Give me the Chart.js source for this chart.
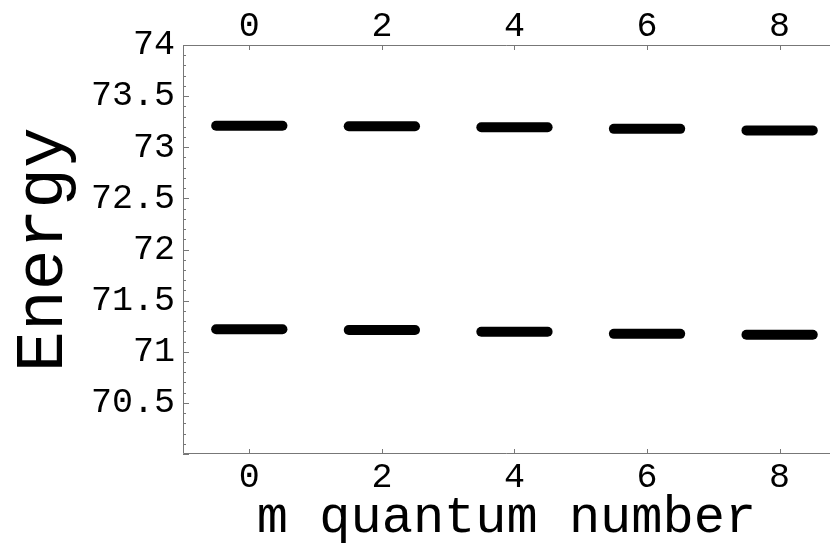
<!DOCTYPE html>
<html>
<head>
<meta charset="utf-8">
<title>Energy levels</title>
<script src="https://cdn.jsdelivr.net/npm/chart.js@4.4.1/dist/chart.umd.min.js"></script>
<style>
    html, body { margin: 0; padding: 0; background: #fff; }
    #box { width: 830px; height: 543px; }
</style>
</head>
<body>
<div id="box"><canvas id="levels"></canvas></div>
<script>
//  DATA

var mValues = [0, 2, 4, 6, 8];
var upperLevel = [73.21, 73.205, 73.195, 73.18, 73.165];
var lowerLevel = [71.22, 71.213, 71.196, 71.175, 71.167];

var xTicks = [0, 2, 4, 6, 8];
var yTicks = [70.5, 71, 71.5, 72, 72.5, 73, 73.5, 74];

var halfWidth = 0.5;
var MONO = "'Liberation Mono', 'Courier New', monospace";
var FRAME = '#777';

// every level is a short flat segment centred on its m value
function levelSegments(levels) {
    return mValues.map(function(m, i) {
        return {
            data: [{x: m - halfWidth, y: levels[i]}, {x: m + halfWidth, y: levels[i]}],
            borderColor: '#000',
            borderWidth: 10,
            borderCapStyle: 'round',
            pointRadius: 0,
            fill: false
        };
    });
}

function setTicks(values) {
    return function(scale) {
        scale.ticks = values.map(function(v) { return {value: v}; });
    };
}

function plainLabel(v) {
    return String(v);
}

//  FRAME + INWARD TICKS

var framePlugin = {
    id: 'frame',
    afterDraw: function(chart) {
        var ctx = chart.ctx;
        var area = chart.chartArea;
        var x = chart.scales.x;
        var y = chart.scales.y;
        ctx.save();
        ctx.strokeStyle = FRAME;
        ctx.lineWidth = 1;
        ctx.beginPath();
        ctx.moveTo(area.right, area.top + 0.5);
        ctx.lineTo(area.left + 0.5, area.top + 0.5);
        ctx.lineTo(area.left + 0.5, area.bottom - 0.5);
        ctx.lineTo(area.right, area.bottom - 0.5);
        xTicks.forEach(function(v) {
            var px = Math.round(x.getPixelForValue(v)) + 0.5;
            ctx.moveTo(px, area.top);
            ctx.lineTo(px, area.top + 5);
            ctx.moveTo(px, area.bottom);
            ctx.lineTo(px, area.bottom - 5);
        });
        // minor ticks every 0.1, longer ones every 0.5
        for (var i = 0; i <= 40; i++) {
            var py = Math.round(y.getPixelForValue(y.min + i * 0.1)) + 0.5;
            var len = (i % 5 === 0) ? 6 : 3;
            ctx.moveTo(area.left, py);
            ctx.lineTo(area.left + len, py);
        }
        ctx.stroke();
        ctx.restore();
    }
};

var tickFont = {family: MONO, size: 35, lineHeight: 1};

var chart = document.getElementById('levels');
var levelChart = new Chart(
    chart, {
        type: 'line',
        data: {
            datasets: levelSegments(upperLevel).concat(levelSegments(lowerLevel))
        },
        options: {
            responsive: true,
            maintainAspectRatio: false,
            animation: false,
            layout: {
                padding: {left: 0, top: 8, right: 0, bottom: 0}
            },
            plugins: {
                legend: {display: false},
                tooltip: {enabled: false}
            },
            scales: {
                x: {
                    type: 'linear',
                    position: 'bottom',
                    min: -1,
                    max: 8.76,
                    afterBuildTicks: setTicks(xTicks),
                    grid: {display: false, drawTicks: false},
                    border: {display: false},
                    ticks: {
                        padding: 6.5,
                        color: '#000',
                        font: tickFont,
                        maxRotation: 0,
                        autoSkip: false,
                        callback: plainLabel
                    },
                    title: {
                        display: true,
                        text: 'm quantum number',
                        color: '#000',
                        font: {family: MONO, size: 52, lineHeight: '32px'},
                        padding: {top: 0, bottom: 9}
                    }
                },
                x2: {
                    type: 'linear',
                    position: 'top',
                    min: -1,
                    max: 8.76,
                    afterBuildTicks: setTicks(xTicks),
                    grid: {display: false, drawTicks: false},
                    border: {display: false},
                    ticks: {
                        padding: 1,
                        color: '#000',
                        font: tickFont,
                        maxRotation: 0,
                        autoSkip: false,
                        callback: plainLabel
                    }
                },
                y: {
                    type: 'linear',
                    position: 'left',
                    min: 70,
                    max: 74,
                    afterBuildTicks: setTicks(yTicks),
                    grid: {display: false, drawTicks: false},
                    border: {display: false},
                    ticks: {
                        padding: 8,
                        color: '#000',
                        font: tickFont,
                        autoSkip: false,
                        callback: plainLabel
                    },
                    title: {
                        display: true,
                        text: 'Energy',
                        color: '#000',
                        font: {family: MONO, size: 68, lineHeight: 1},
                        padding: {top: 10, bottom: 5}
                    }
                }
            }
        },
        plugins: [framePlugin]
    }
);
</script>
</body>
</html>
